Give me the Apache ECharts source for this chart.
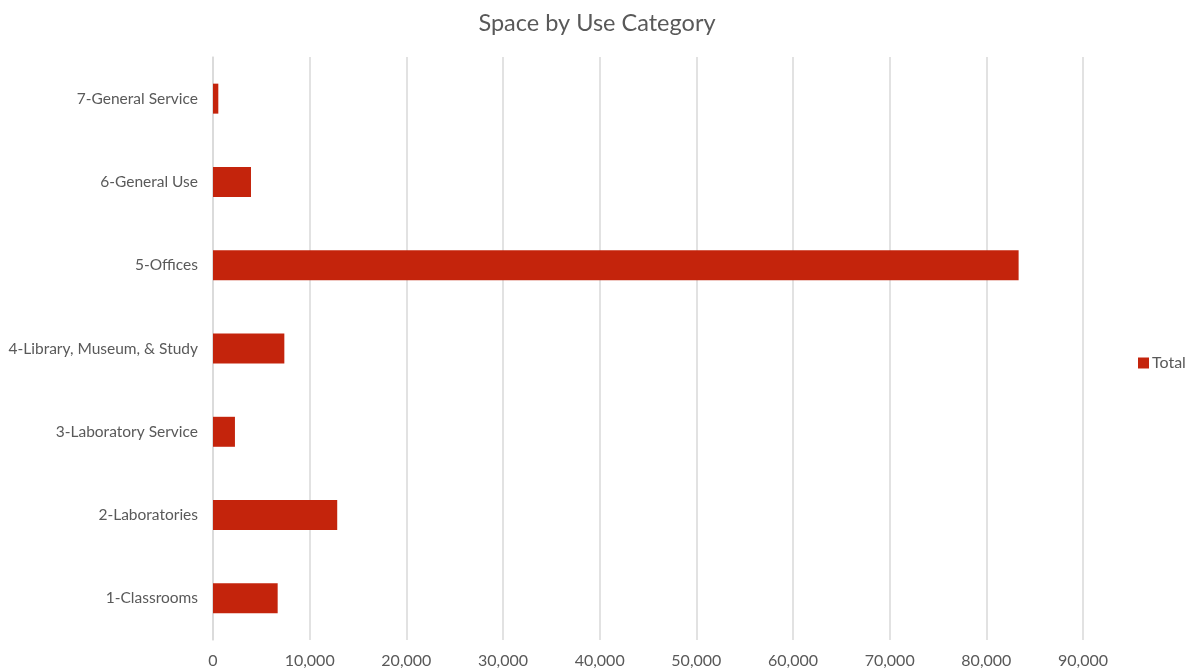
<!DOCTYPE html>
<html>
<head>
<meta charset="utf-8">
<script src="https://cdn.jsdelivr.net/npm/echarts@6/dist/echarts.min.js"></script>
<style>html,body{margin:0;padding:0;background:#fff}#c{width:1194px;height:669px}</style>
</head>
<body>
<div id="c"></div>
<script>
const categories = ["1-Classrooms","2-Laboratories","3-Laboratory Service","4-Library, Museum, & Study","5-Offices","6-General Use","7-General Service"];
const totalValues = [6690, 12850, 2270, 7380, 83340, 3930, 550];
const seriesName = "Total";
const xTicks = {min: 0, max: 90000, interval: 10000};

const chart = echarts.init(document.getElementById('c'));
chart.setOption({
  animation: false,
  backgroundColor: '#fff',
  textStyle: {fontFamily: 'Lato'},
  title: {
    text: 'Space by Use Category',
    left: 'center', top: 6,
    textStyle: {fontFamily: 'Lato', fontSize: 23.5, fontWeight: 'normal', color: '#595959'}
  },
  legend: {
    left: 1133, top: 350, orient: 'vertical',
    itemWidth: 11, itemHeight: 11, itemGap: 4,
    icon: 'rect',
    textStyle: {fontFamily: 'Lato', fontSize: 16, color: '#595959', padding: [0, 0, 0, -2]},
    data: [seriesName]
  },
  grid: {left: 213, right: 111, top: 57, bottom: 29, containLabel: false},
  xAxis: {
    type: 'value', min: xTicks.min, max: xTicks.max, interval: xTicks.interval,
    axisLine: {show: false},
    axisTick: {show: false},
    axisLabel: {color: '#595959', fontSize: 16, margin: 13,
      formatter: v => v.toLocaleString('en-US')},
    splitLine: {show: true, lineStyle: {color: '#d9d9d9', width: 1.5}}
  },
  yAxis: {
    type: 'category', data: categories,
    axisLine: {show: true, lineStyle: {color: '#d9d9d9', width: 1.5}},
    axisTick: {show: false},
    axisLabel: {color: '#595959', fontSize: 15.5, margin: 15}
  },
  series: [{
    name: seriesName, type: 'bar', data: totalValues,
    barWidth: '36%',
    itemStyle: {color: '#C4240C'}
  }]
});
</script>
</body>
</html>
